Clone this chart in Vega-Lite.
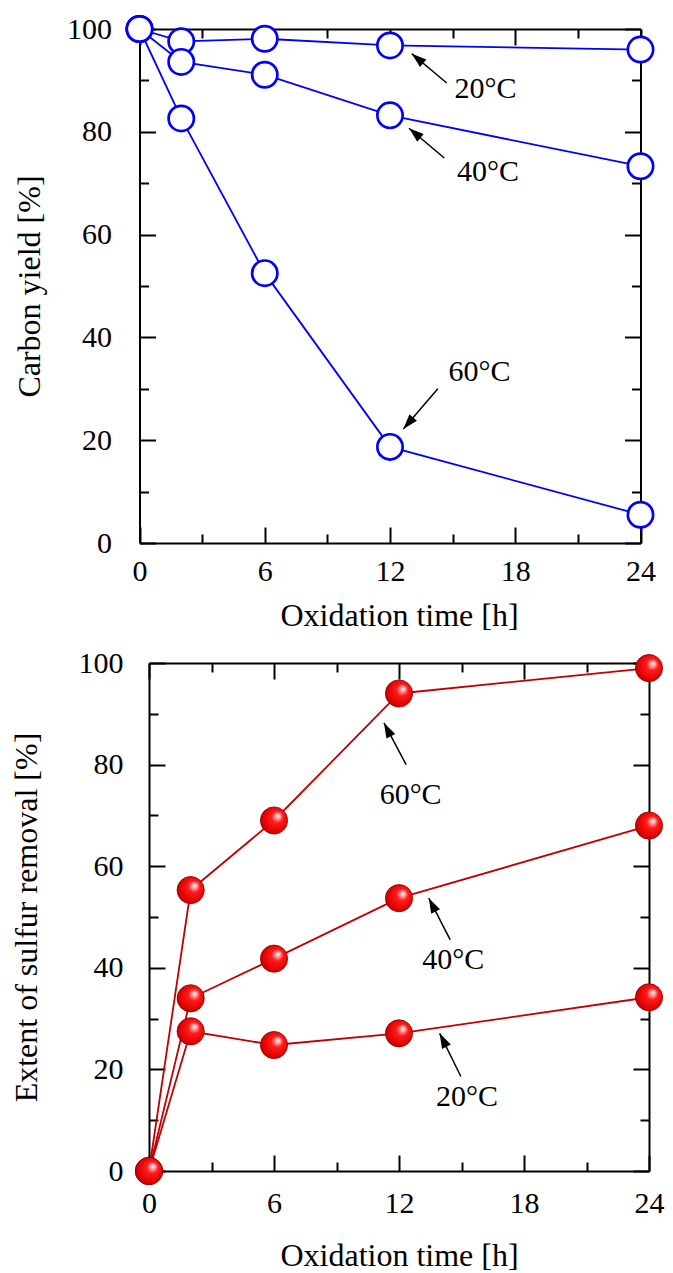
{
  "$schema": "https://vega.github.io/schema/vega-lite/v6.json",
  "padding": {"top": 10, "left": 10, "right": 5, "bottom": 5},
  "spacing": 17,
  "config": {
    "font": "Liberation Serif",
    "view": {"stroke": null},
    "axis": {
      "grid": false,
      "domainColor": "black",
      "domainWidth": 2,
      "tickColor": "black",
      "tickWidth": 2,
      "labelColor": "black",
      "labelFont": "Liberation Serif",
      "labelFontSize": 30,
      "titleFont": "Liberation Serif",
      "titleFontSize": 32,
      "titleFontWeight": "normal",
      "titleColor": "black",
      "labelFlush": false,
      "labelOverlap": false
    }
  },
  "datasets": {
    "carbon": [
      {"series": "20°C", "time": 0, "value": 100},
      {"series": "20°C", "time": 2, "value": 97.6},
      {"series": "20°C", "time": 6, "value": 98.1},
      {"series": "20°C", "time": 12, "value": 96.8},
      {"series": "20°C", "time": 24, "value": 96.0},
      {"series": "40°C", "time": 0, "value": 100},
      {"series": "40°C", "time": 2, "value": 93.6},
      {"series": "40°C", "time": 6, "value": 91.1},
      {"series": "40°C", "time": 12, "value": 83.2},
      {"series": "40°C", "time": 24, "value": 73.3},
      {"series": "60°C", "time": 0, "value": 100},
      {"series": "60°C", "time": 2, "value": 82.6},
      {"series": "60°C", "time": 6, "value": 52.5},
      {"series": "60°C", "time": 12, "value": 18.7},
      {"series": "60°C", "time": 24, "value": 5.5}
    ],
    "sulfur": [
      {"series": "60°C", "time": 0, "value": 0},
      {"series": "60°C", "time": 2, "value": 55.3},
      {"series": "60°C", "time": 6, "value": 69.0},
      {"series": "60°C", "time": 12, "value": 94.0},
      {"series": "60°C", "time": 24, "value": 99.0},
      {"series": "40°C", "time": 0, "value": 0},
      {"series": "40°C", "time": 2, "value": 34.0},
      {"series": "40°C", "time": 6, "value": 41.8},
      {"series": "40°C", "time": 12, "value": 53.7},
      {"series": "40°C", "time": 24, "value": 68.0},
      {"series": "20°C", "time": 0, "value": 0},
      {"series": "20°C", "time": 2, "value": 27.5},
      {"series": "20°C", "time": 6, "value": 24.8},
      {"series": "20°C", "time": 12, "value": 27.1},
      {"series": "20°C", "time": 24, "value": 34.2}
    ],
    "carbonNotes": [
      {"label": "20°C", "tx": 15.09, "ty": 88.4, "ax": 14.72, "ay": 89.5, "hx": 13.04, "hy": 95.2},
      {"label": "40°C", "tx": 15.21, "ty": 72.2, "ax": 14.6, "ay": 74.9, "hx": 12.91, "hy": 80.7},
      {"label": "60°C", "tx": 14.8, "ty": 33.2, "ax": 14.29, "ay": 30.0, "hx": 12.64, "hy": 22.2}
    ],
    "sulfurNotes": [
      {"label": "60°C", "tx": 11.07, "ty": 74.0, "ax": 12.34, "ay": 80.0, "hx": 11.28, "hy": 88.2},
      {"label": "40°C", "tx": 13.12, "ty": 41.5, "ax": 14.46, "ay": 45.5, "hx": 13.43, "hy": 53.7},
      {"label": "20°C", "tx": 13.78, "ty": 14.5, "ax": 14.97, "ay": 18.6, "hx": 13.95, "hy": 27.1}
    ]
  },
  "vconcat": [
    {
      "width": 501,
      "height": 514,
      "resolve": {"axis": {"x": "independent", "y": "independent"}},
      "layer": [
        {
          "data": {"name": "carbon"},
          "mark": {"type": "line", "color": "#0000ff", "strokeWidth": 1.8},
          "encoding": {
            "x": {"field": "time", "type": "quantitative", "scale": {"domain": [0, 24], "nice": false, "range": [-9.5, 491.5]},
                  "axis": {"orient": "bottom", "values": [0, 6, 12, 18, 24], "tickSize": -16, "labelPadding": 29, "title": "Oxidation time [h]", "titlePadding": 14, "titleX": 250}},
            "y": {"field": "value", "type": "quantitative", "scale": {"domain": [0, 100], "nice": false},
                  "axis": {"orient": "left", "offset": 9.5, "values": [0, 20, 40, 60, 80, 100], "tickSize": -16, "labelPadding": 44, "title": "Carbon yield [%]", "titlePadding": 20}},
            "detail": {"field": "series"}
          }
        },
        {
          "data": {"name": "carbon"},
          "mark": {"type": "circle", "fill": "white", "stroke": "#0000ff", "strokeWidth": 2.7, "size": 640, "opacity": 1, "fillOpacity": 1},
          "encoding": {
            "x": {"field": "time", "type": "quantitative", "scale": {"domain": [0, 24], "nice": false, "range": [-9.5, 491.5]},
                  "axis": {"orient": "bottom", "values": [3, 9, 15, 21], "tickSize": -9, "labels": false, "domain": false, "title": null}},
            "y": {"field": "value", "type": "quantitative", "scale": {"domain": [0, 100], "nice": false},
                  "axis": {"orient": "left", "offset": 9.5, "values": [10, 30, 50, 70, 90], "tickSize": -9, "labels": false, "domain": false, "title": null}}
          }
        },
        {
          "data": {"name": "carbonNotes"},
          "mark": {"type": "rule", "color": "black", "strokeWidth": 1.5},
          "encoding": {
            "x": {"field": "ax", "type": "quantitative", "scale": {"domain": [0, 24], "nice": false, "range": [-9.5, 491.5]},
                  "axis": {"orient": "top", "values": [0, 6, 12, 18, 24], "tickSize": -16, "labels": false, "title": null}},
            "y": {"field": "ay", "type": "quantitative", "scale": {"domain": [0, 100], "nice": false},
                  "axis": {"orient": "right", "offset": -9.5, "values": [0, 20, 40, 60, 80, 100], "tickSize": -16, "labels": false, "title": null}},
            "x2": {"field": "hx"},
            "y2": {"field": "hy"}
          }
        },
        {
          "data": {"name": "carbonNotes"},
          "mark": {"type": "text", "align": "left", "baseline": "middle", "fontSize": 30, "font": "Liberation Serif", "color": "black"},
          "encoding": {
            "x": {"field": "tx", "type": "quantitative", "scale": {"domain": [0, 24], "nice": false, "range": [-9.5, 491.5]},
                  "axis": {"orient": "top", "values": [3, 9, 15, 21], "tickSize": -9, "labels": false, "domain": false, "title": null}},
            "y": {"field": "ty", "type": "quantitative", "scale": {"domain": [0, 100], "nice": false},
                  "axis": {"orient": "right", "offset": -9.5, "values": [10, 30, 50, 70, 90], "tickSize": -9, "labels": false, "domain": false, "title": null}},
            "text": {"field": "label"}
          }
        },
        {
          "data": {"name": "carbonNotes"},
          "transform": [{"filter": "datum.label !== '60°C'"}],
          "mark": {"type": "point", "shape": "M0,0L-0.33,1L0.33,1Z", "filled": true, "color": "black", "opacity": 1, "size": 900, "angle": 310},
          "encoding": {
            "x": {"field": "hx", "type": "quantitative", "scale": {"domain": [0, 24], "nice": false, "range": [-9.5, 491.5]}, "axis": null},
            "y": {"field": "hy", "type": "quantitative", "scale": {"domain": [0, 100], "nice": false}, "axis": null}
          }
        },
        {
          "data": {"name": "carbonNotes"},
          "transform": [{"filter": "datum.label === '60°C'"}],
          "mark": {"type": "point", "shape": "M0,0L-0.33,1L0.33,1Z", "filled": true, "color": "black", "opacity": 1, "size": 900, "angle": 221},
          "encoding": {
            "x": {"field": "hx", "type": "quantitative", "scale": {"domain": [0, 24], "nice": false, "range": [-9.5, 491.5]}, "axis": null},
            "y": {"field": "hy", "type": "quantitative", "scale": {"domain": [0, 100], "nice": false}, "axis": null}
          }
        }
      ]
    },
    {
      "width": 500,
      "height": 508,
      "resolve": {"axis": {"x": "independent", "y": "independent"}},
      "layer": [
        {
          "data": {"name": "sulfur"},
          "mark": {"type": "line", "color": "#c00000", "strokeWidth": 1.8},
          "encoding": {
            "x": {"field": "time", "type": "quantitative", "scale": {"domain": [0, 24], "nice": false},
                  "axis": {"orient": "bottom", "values": [0, 6, 12, 18, 24], "tickSize": -16, "labelPadding": 33, "title": "Oxidation time [h]", "titlePadding": 22}},
            "y": {"field": "value", "type": "quantitative", "scale": {"domain": [0, 100], "nice": false},
                  "axis": {"orient": "left", "values": [0, 20, 40, 60, 80, 100], "tickSize": -16, "labelPadding": 42, "title": "Extent of sulfur removal [%]", "titlePadding": 35}},
            "detail": {"field": "series"}
          }
        },
        {
          "data": {"name": "sulfur"},
          "mark": {"type": "circle", "size": 740, "opacity": 1, "fillOpacity": 1, "stroke": "#8a0000", "strokeWidth": 0.8,
                   "fill": {"gradient": "radial", "x1": 0.66, "y1": 0.32, "r1": 0, "x2": 0.55, "y2": 0.48, "r2": 0.62,
                            "stops": [{"offset": 0, "color": "#ffffff"}, {"offset": 0.12, "color": "#ffb0b0"}, {"offset": 0.35, "color": "#ff1a1a"}, {"offset": 0.8, "color": "#dd0000"}, {"offset": 1, "color": "#9a0000"}]}},
          "encoding": {
            "x": {"field": "time", "type": "quantitative", "scale": {"domain": [0, 24], "nice": false},
                  "axis": {"orient": "bottom", "values": [3, 9, 15, 21], "tickSize": -9, "labels": false, "domain": false, "title": null}},
            "y": {"field": "value", "type": "quantitative", "scale": {"domain": [0, 100], "nice": false},
                  "axis": {"orient": "left", "values": [10, 30, 50, 70, 90], "tickSize": -9, "labels": false, "domain": false, "title": null}}
          }
        },
        {
          "data": {"name": "sulfurNotes"},
          "mark": {"type": "rule", "color": "black", "strokeWidth": 1.5},
          "encoding": {
            "x": {"field": "ax", "type": "quantitative", "scale": {"domain": [0, 24], "nice": false},
                  "axis": {"orient": "top", "values": [0, 6, 12, 18, 24], "tickSize": -16, "labels": false, "title": null}},
            "y": {"field": "ay", "type": "quantitative", "scale": {"domain": [0, 100], "nice": false},
                  "axis": {"orient": "right", "values": [0, 20, 40, 60, 80, 100], "tickSize": -16, "labels": false, "title": null}},
            "x2": {"field": "hx"},
            "y2": {"field": "hy"}
          }
        },
        {
          "data": {"name": "sulfurNotes"},
          "mark": {"type": "text", "align": "left", "baseline": "middle", "fontSize": 30, "font": "Liberation Serif", "color": "black"},
          "encoding": {
            "x": {"field": "tx", "type": "quantitative", "scale": {"domain": [0, 24], "nice": false},
                  "axis": {"orient": "top", "values": [3, 9, 15, 21], "tickSize": -9, "labels": false, "domain": false, "title": null}},
            "y": {"field": "ty", "type": "quantitative", "scale": {"domain": [0, 100], "nice": false},
                  "axis": {"orient": "right", "values": [10, 30, 50, 70, 90], "tickSize": -9, "labels": false, "domain": false, "title": null}},
            "text": {"field": "label"}
          }
        },
        {
          "data": {"name": "sulfurNotes"},
          "mark": {"type": "point", "shape": "M0,0L-0.33,1L0.33,1Z", "filled": true, "color": "black", "opacity": 1, "size": 900, "angle": 333},
          "encoding": {
            "x": {"field": "hx", "type": "quantitative", "scale": {"domain": [0, 24], "nice": false}, "axis": null},
            "y": {"field": "hy", "type": "quantitative", "scale": {"domain": [0, 100], "nice": false}, "axis": null}
          }
        }
      ]
    }
  ]
}
